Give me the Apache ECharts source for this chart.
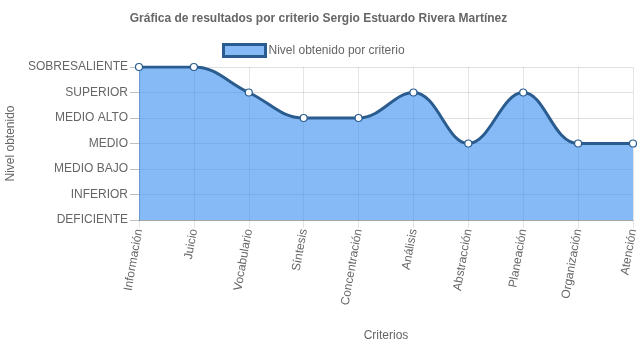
<!DOCTYPE html>
<html>
<head>
<meta charset="utf-8">
<script src="https://cdn.jsdelivr.net/npm/echarts@6/dist/echarts.min.js"></script>
<style>
  html, body { margin: 0; padding: 0; background: #fff; }
  #chart { width: 637px; height: 348px; }
</style>
</head>
<body>
<div id="chart"></div>
<script>
// Criterios evaluados (eje X)
var criterios = ['Información', 'Juicio', 'Vocabulario', 'Síntesis', 'Concentración',
  'Análisis', 'Abstracción', 'Planeación', 'Organización', 'Atención'];

// Niveles posibles, de 1 (DEFICIENTE) a 7 (SOBRESALIENTE)
var niveles = ['DEFICIENTE', 'INFERIOR', 'MEDIO BAJO', 'MEDIO', 'MEDIO ALTO', 'SUPERIOR', 'SOBRESALIENTE'];

// Nivel obtenido en cada criterio (índice en niveles + 1)
var nivelObtenido = [7, 7, 6, 5, 5, 6, 4, 6, 4, 4];

var fuente = 'Liberation Sans, Arial, Helvetica, sans-serif';
var gris = '#666';
var relleno = 'rgba(54,140,240,0.6)';
var linea = '#2b5c8f';

var chart = echarts.init(document.getElementById('chart'), null, { renderer: 'canvas' });
chart.setOption({
  animation: false,
  textStyle: { fontFamily: fuente },
  title: {
    text: 'Gráfica de resultados por criterio Sergio Estuardo Rivera Martínez',
    left: 'center',
    top: 8,
    textStyle: { fontFamily: fuente, fontSize: 12, fontWeight: 'bold', color: gris }
  },
  legend: {
    left: 222,
    top: 43,
    padding: 0,
    icon: 'rect',
    itemWidth: 42,
    itemHeight: 12,
    itemGap: 10,
    textStyle: { fontFamily: fuente, fontSize: 12, color: gris, padding: [0, 0, 0, -2] },
    data: [{
      name: 'Nivel obtenido por criterio',
      itemStyle: { color: relleno, opacity: 1, borderColor: linea, borderWidth: 3 }
    }]
  },
  grid: { left: 139, right: 4, top: 67, bottom: 128, containLabel: false, outerBoundsMode: 'none' },
  xAxis: {
    type: 'category',
    data: criterios,
    boundaryGap: false,
    name: 'Criterios',
    nameLocation: 'middle',
    nameGap: 110,
    nameTextStyle: { fontFamily: fuente, fontSize: 12, color: gris },
    axisLine: { show: true, lineStyle: { color: 'rgba(0,0,0,0.25)', width: 1 } },
    axisTick: { show: true, length: 8, alignWithLabel: true, lineStyle: { color: 'rgba(0,0,0,0.1)' } },
    axisLabel: {
      rotate: 80,
      margin: 9,
      interval: 0,
      fontFamily: fuente,
      fontSize: 12,
      color: gris
    },
    splitLine: { show: true, lineStyle: { color: 'rgba(0,0,0,0.1)', width: 1 } }
  },
  yAxis: {
    type: 'value',
    min: 1,
    max: 7,
    interval: 1,
    name: 'Nivel obtenido',
    nameLocation: 'middle',
    nameGap: 119,
    nameTextStyle: { fontFamily: fuente, fontSize: 12, color: gris },
    axisLine: { show: true, lineStyle: { color: 'rgba(0,0,0,0.25)', width: 1 } },
    axisTick: { show: true, length: 9, lineStyle: { color: 'rgba(0,0,0,0.25)' } },
    axisLabel: {
      margin: 11,
      fontFamily: fuente,
      fontSize: 12,
      color: gris,
      formatter: function (v) { return niveles[v - 1] || ''; }
    },
    splitLine: { show: true, lineStyle: { color: 'rgba(0,0,0,0.12)', width: 1 } }
  },
  series: [{
    name: 'Nivel obtenido por criterio',
    type: 'line',
    data: nivelObtenido,
    smooth: 0.4,
    symbol: 'circle',
    symbolSize: 7,
    showAllSymbol: true,
    lineStyle: { color: linea, width: 3 },
    itemStyle: { color: '#ffffff', borderColor: linea, borderWidth: 1.2 },
    areaStyle: { color: relleno, opacity: 1, origin: 'start' }
  }]
});
</script>
</body>
</html>
